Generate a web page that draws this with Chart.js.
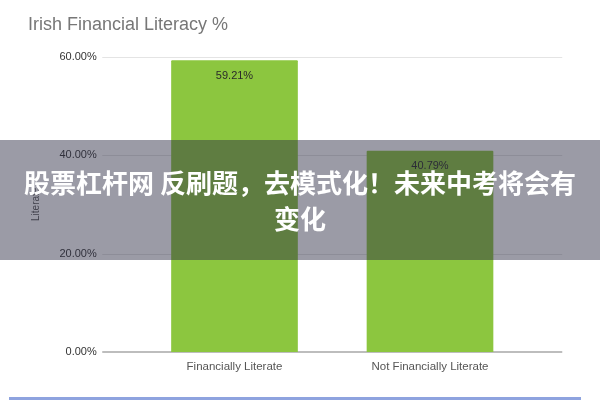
<!DOCTYPE html>
<html>
<head>
<meta charset="utf-8">
<script src="https://cdn.jsdelivr.net/npm/chart.js@4/dist/chart.umd.min.js"></script>
<style>
  html, body { margin: 0; padding: 0; background: #fff; }
  #wrap { position: relative; width: 600px; height: 400px; overflow: hidden; }
  canvas { position: absolute; left: 0; top: 0; }
  #band {
    position: absolute; left: 0; top: 140px; width: 600px; height: 120px;
    background: rgba(45, 45, 70, 0.48);
    display: flex; align-items: center; justify-content: center; text-align: center;
    color: #fff; font-family: "Noto Sans CJK SC", sans-serif; font-weight: 700;
    font-size: 26px; line-height: 36px;
  }
  #rule { position: absolute; left: 9px; top: 397px; width: 572px; height: 3px; background: #8ea3df; }
</style>
</head>
<body>
<div id="wrap">
  <canvas id="c" width="600" height="400"></canvas>
  <div id="band">股票杠杆网 反刷题，去模式化！未来中考将会有<br>变化</div>
  <div id="rule"></div>
</div>
<script>
const chartTitle = "Irish Financial Literacy %";
const categories = ["Financially Literate", "Not Financially Literate"];
const literateValues = [59.21, 40.79];
const yTickValues = [0, 20, 40, 60];
const yAxisTitle = "Literate";

const FONT = "'Liberation Sans', Arial, sans-serif";
const GRID_EXTEND = 34.5;

// horizontal grid lines, positioned by the y scale, extended a little beyond the category area
const extendedGrid = {
  id: 'extendedGrid',
  beforeDatasetsDraw(chart) {
    const ctx = chart.ctx, y = chart.scales.y, a = chart.chartArea;
    ctx.save();
    yTickValues.forEach(v => {
      const py = y.getPixelForValue(v);
      ctx.beginPath();
      ctx.strokeStyle = v === 0 ? '#bdbdbd' : '#e4e4e4';
      ctx.lineWidth = v === 0 ? 2 : 1;
      const yy = v === 0 ? py : Math.round(py) + 0.5;
      ctx.moveTo(a.left - GRID_EXTEND, yy);
      ctx.lineTo(a.right + GRID_EXTEND, yy);
      ctx.stroke();
    });
    ctx.restore();
  }
};

const valueLabels = {
  id: 'valueLabels',
  afterDatasetsDraw(chart) {
    const ctx = chart.ctx;
    const meta = chart.getDatasetMeta(0);
    ctx.save();
    ctx.font = "11px " + FONT;
    ctx.fillStyle = "#2a2a2a";
    ctx.textAlign = "center";
    ctx.textBaseline = "middle";
    meta.data.forEach((bar, i) => {
      ctx.fillText(literateValues[i].toFixed(2) + "%", bar.x, bar.y + 15);
    });
    ctx.restore();
  }
};

new Chart(document.getElementById('c'), {
  type: 'bar',
  data: {
    labels: categories,
    datasets: [{
      label: yAxisTitle,
      data: literateValues,
      backgroundColor: '#8cc63f',
      borderWidth: 0,
      borderRadius: 1,
      barThickness: 126
    }]
  },
  options: {
    responsive: false,
    animation: false,
    devicePixelRatio: 1,
    layout: { padding: { left: 28, right: 72.25, top: 14, bottom: 10 } },
    plugins: {
      legend: { display: false },
      tooltip: { enabled: false },
      title: {
        display: true, text: chartTitle, align: 'start',
        color: '#777', font: { family: FONT, size: 18, weight: 'normal' },
        padding: { top: 0, bottom: 21 }
      }
    },
    scales: {
      x: {
        offset: true,
        afterFit: (s) => { s.height = 38; },
        ticks: {
          color: '#555', font: { family: FONT, size: 11.5 }, padding: 8, maxRotation: 0, autoSkip: false
        },
        grid: { display: false, drawTicks: false },
        border: { display: false }
      },
      y: {
        min: 0, max: 60,
        afterBuildTicks: (s) => { s.ticks = yTickValues.map(v => ({ value: v })); },
        afterFit: (s) => { s.width = 108.75; },
        ticks: {
          callback: (v) => v.toFixed(2) + '%',
          color: '#333', font: { family: FONT, size: 11 }, padding: 40
        },
        grid: { display: false, drawTicks: false },
        border: { display: false },
        title: {
          display: true, text: yAxisTitle, color: '#555',
          font: { family: FONT, size: 10 }, padding: { top: 2, bottom: 2 }
        }
      }
    }
  },
  plugins: [extendedGrid, valueLabels]
});
</script>
</body>
</html>
